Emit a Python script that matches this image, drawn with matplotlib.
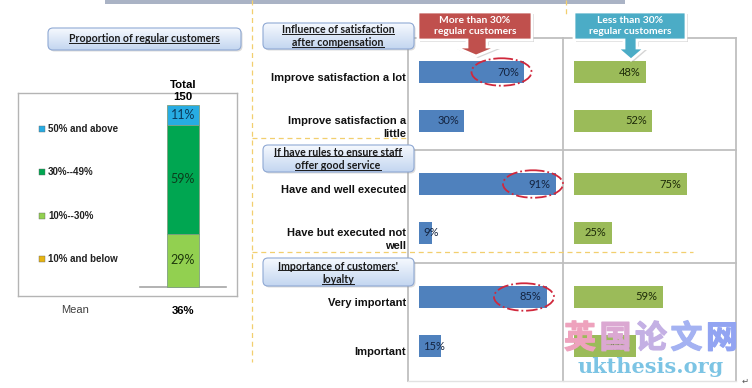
import matplotlib
matplotlib.use("Agg")
import numpy as np
import matplotlib.pyplot as plt
import matplotlib.transforms as mtransforms
import matplotlib.patheffects as pe
from matplotlib.patches import FancyBboxPatch, Ellipse, Polygon, Rectangle
from matplotlib.colors import LinearSegmentedColormap

plt.rcParams['font.family'] = ['Liberation Sans', 'DejaVu Sans']

# ---- data ----
share_labels = ['50% and above', '30%--49%', '10%--30%', '10% and below']
share_colors = ['#27ace3', '#00a651', '#92d050', '#e6b412']
share_values = [11, 59, 29, 0]          # top -> bottom
share_text = ['#0b3a5c', '#0c3d1c', '#1f3a0c', '#333333']
total_n = 150
mean_share = '36%'

sections = ['Influence of satisfaction\nafter compensation',
            'If have rules to ensure staff\noffer good service',
            "Importance of customers'\nloyalty"]
answers = [['Improve satisfaction a lot', 'Improve satisfaction a\nlittle'],
           ['Have and well executed', 'Have but executed not\nwell'],
           ['Very important', 'Important']]
more_30 = [[70, 30], [91, 9], [85, 15]]
less_30 = [[48, 52], [75, 25], [59, 41]]
circled = [[True, False], [True, False], [True, False]]
group_names = ['More than 30%\nregular customers', 'Less than 30%\nregular customers']

# ---- figure in pixel units ----
W, H = 752, 388
fig = plt.figure(figsize=(W / 100, H / 100), dpi=100)
fig.patch.set_facecolor('white')


def rect(x0, y0, x1, y1):
    return [x0 / W, 1 - y1 / H, (x1 - x0) / W, (y1 - y0) / H]


GRID = '#bfbfbf'

# left stacked bar
axL = fig.add_axes(rect(18, 93, 237, 296))
axL.set_xlim(-(183 - 18) / 32, (237 - 183) / 32)
axL.set_ylim(-(296 - 287) / 1.84, (287 - 93) / 1.84)
axL.set_xticks([])
axL.set_yticks([])
for s in axL.spines.values():
    s.set_color('#b4b4b4')
    s.set_linewidth(1)
axL.axhline(0, xmin=(140 - 18) / 219, xmax=(226 - 18) / 219, color='#a6a6a6', lw=1.2)
bottom = 0
for v, c, tc in zip(share_values[::-1], share_colors[::-1], share_text[::-1]):
    if v > 0:
        axL.bar(0, v, bottom=bottom, width=1, color=c, edgecolor='#7f9f7f', lw=0.6, zorder=3)
        axL.text(0, bottom + v / 2, f'{v}%', ha='center', va='center', color=tc,
                 fontsize=9, family='Lato', zorder=4)
    bottom += v
axL.text(0, bottom + 1.5, f'Total\n{total_n}', ha='center', va='bottom', fontsize=8.2,
         fontweight='bold', linespacing=1.3, clip_on=False)
for i, (lab, c) in enumerate(zip(share_labels, share_colors)):
    yf = 1 - (129 + i * 43.3 - 93) / 203
    axL.scatter([0.11], [yf], marker='s', s=14, color=c, edgecolor='#666666', lw=0.3,
                transform=axL.transAxes, clip_on=False)
    axL.text(0.137, yf, lab, transform=axL.transAxes, ha='left', va='center',
             fontsize=7, fontweight='bold', color='#222222')

# right bar panels
tops = [38, 150, 263]
bots = [150, 263, 381]
bar_cols = ['#4f81bd', '#9bbb59']
lab_cols = ['#13233f', '#1d2a08']
col_x = [(408, 563, 419), (563, 736, 574)]
for g in range(3):
    h = bots[g] - tops[g]
    for c, series in enumerate([more_30, less_30]):
        x0, x1, z0 = col_x[c]
        ax = fig.add_axes(rect(x0, tops[g], x1, bots[g]))
        ax.set_xlim(-(z0 - x0) / 1.5, (x1 - z0) / 1.5)
        ax.set_ylim((h - 34) / 49, -34 / 49)
        ax.set_xticks([])
        ax.set_yticks([])
        ax.patch.set_alpha(0)
        for name, s in ax.spines.items():
            s.set_color(GRID)
            s.set_linewidth(1.3)
        if g < 2:
            ax.spines['bottom'].set_visible(False)
        else:
            ax.spines['bottom'].set_color('#e2e2e2')
            ax.spines['bottom'].set_linewidth(1)
        if c == 1:
            ax.spines['left'].set_visible(False)
        vals = series[g]
        ax.barh([0, 1], vals, height=0.45, color=bar_cols[c], zorder=3)
        for i, v in enumerate(vals):
            if v >= 20:
                ax.text(v - 3.3, i, f'{v}%', ha='right', va='center', fontsize=8,
                        family='Lato', color=lab_cols[c], zorder=5)
            else:
                ax.text(2.7, i, f'{v}%', ha='left', va='center', fontsize=8,
                        family='Lato', color=lab_cols[c], zorder=5)
            if c == 0 and circled[g][i]:
                ax.add_patch(Ellipse((v - 15, i), 40, 0.56, fill=False, ec='#d0283c',
                                     ls='-.', lw=1.3, zorder=6, clip_on=False))
        if c == 0:
            tr = mtransforms.blended_transform_factory(ax.transAxes, ax.transData)
            for i, lab in enumerate(answers[g]):
                ax.text(-0.013, i + 0.13, lab, transform=tr, ha='right', va='center',
                        multialignment='right', fontsize=8, fontweight='bold',
                        color='#111111', linespacing=1.3, clip_on=False)

# overlay for decorations, in pixel coordinates
ov = fig.add_axes([0, 0, 1, 1])
ov.set_xlim(0, W)
ov.set_ylim(H, 0)
ov.axis('off')
ov.patch.set_alpha(0)

ov.add_patch(Rectangle((105, 0), 520, 4, color='#aab3c5', lw=0))
ydash = dict(color='#f2cf6e', lw=0.9, dashes=(4, 3))
ov.plot([252, 252], [0, 362], **ydash)
ov.plot([252, 408], [138, 138], **ydash)
ov.plot([252, 693], [252, 252], **ydash)
ov.plot([566, 566], [0, 14], **ydash)

grad_cmap = LinearSegmentedColormap.from_list('hdr', ['#f6f9fe', '#c3d6f0'])
underlined = []


def header(x0, y0, x1, y1, lines, ys, cx, size):
    sh = FancyBboxPatch((x0 + 1.5, y0 + 1.5), x1 - x0, y1 - y0,
                        boxstyle='round,pad=0,rounding_size=5', fc='#999999',
                        ec='none', alpha=0.35, zorder=2)
    ov.add_patch(sh)
    p = FancyBboxPatch((x0, y0), x1 - x0, y1 - y0, boxstyle='round,pad=0,rounding_size=5',
                       fc='none', ec='#8fa9d4', lw=0.8, zorder=4)
    ov.add_patch(p)
    im = ov.imshow(np.linspace(0, 1, 60).reshape(-1, 1), extent=(x0, x1, y1, y0),
                   cmap=grad_cmap, aspect='auto', origin='upper', zorder=3)
    im.set_clip_path(p)
    for ln, y in zip(lines, ys):
        t = ov.text(cx, y, ln, ha='center', va='center', fontsize=size, fontweight='bold',
                    family='Lato', color='#1a1a1a', zorder=5)
        underlined.append(t)


header(48, 28, 241, 50, ['Proportion of regular customers'], [39], 144, 7.6)
header(263, 23, 414, 49, sections[0].split('\n'), [29.5, 42.5], 338, 7.6)
header(263, 145, 414, 172, sections[1].split('\n'), [152, 165.5], 338, 7.6)
header(263, 258, 414, 286, sections[2].split('\n'), [266, 279.5], 338, 7.6)
ov.set_xlim(0, W)
ov.set_ylim(H, 0)


def callout(x0, x1, y0, y1, sx0, sx1, hx0, hx1, hy, tip, color, text):
    pts = [(x0, y0), (x1, y0), (x1, y1), (sx1, y1), (sx1, hy), (hx1, hy), tip,
           (hx0, hy), (sx0, hy), (sx0, y1), (x0, y1)]
    shadow = [(x + 2, y + 2) for x, y in pts]
    ov.add_patch(Polygon(shadow, closed=True, fc='#888888', ec='none', alpha=0.35, zorder=6))
    ov.add_patch(Polygon(pts, closed=True, fc=color, ec='white', lw=2, zorder=7))
    ov.text((x0 + x1) / 2, (y0 + y1) / 2, text, ha='center', va='center', color='white',
            fontsize=7.4, fontweight='bold', family='Lato', linespacing=1.15, zorder=8)


callout(418, 532, 12, 40, 467, 487, 455, 498, 47, (476, 56), '#c0504d', group_names[0])
callout(574, 686, 12, 40, 624, 637, 617, 645, 48, (631, 60), '#4bacc6', group_names[1])

ov.text(75, 310, 'Mean', ha='center', va='center', fontsize=8, color='#404040')
ov.text(183, 311, mean_share, ha='center', va='center', fontsize=8.2, fontweight='bold')

# watermark
wm_chars = '英国论文网'
wm_cols = ['#eea2bd', '#dba8d2', '#c4b0e4', '#a4b2f2', '#92a4f2']
for k, (ch, c) in enumerate(zip(wm_chars, wm_cols)):
    ov.text(580 + 35.5 * k, 339, ch, ha='center', va='center', fontsize=23, fontweight='bold',
            family='Noto Sans CJK SC', color=c, zorder=9,
            path_effects=[pe.withStroke(linewidth=0.9, foreground=c)])
ov.text(651, 367, 'ukthesis.org', ha='center', va='center', fontsize=15,
        fontweight='bold', family='DejaVu Serif', color='#7cc4e4', zorder=9)
ov.text(745, 381, '↵', ha='center', va='center', fontsize=6, color='#555555', family='DejaVu Sans')

# underline the header texts
fig.canvas.draw()
inv = ov.transData.inverted()
for t in underlined:
    bb = t.get_window_extent()
    (xa, ya) = inv.transform((bb.x0, bb.y0 + 1.2))
    (xb, yb) = inv.transform((bb.x1, bb.y0 + 1.2))
    ov.plot([xa, xb], [ya, yb], color='#1a1a1a', lw=0.7, zorder=5)

fig.savefig('out.png', dpi=100)
